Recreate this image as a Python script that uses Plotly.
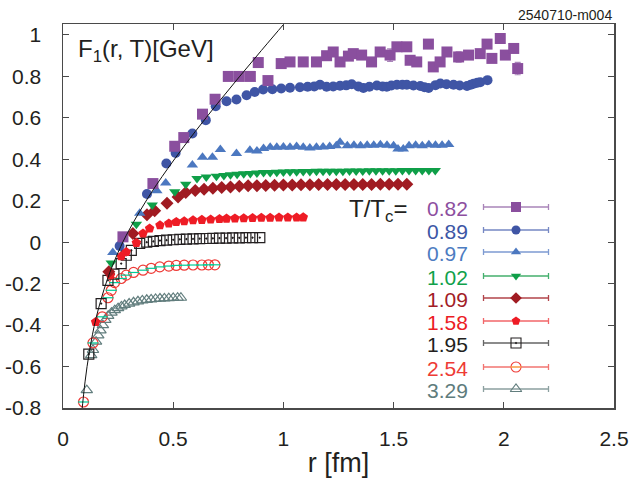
import plotly.graph_objects as go

# ---------------- data ----------------
labels = ["0.82", "0.89", "0.97", "1.02", "1.09", "1.58", "1.95", "2.54", "3.29"]

r_082 = [0.272, 0.408, 0.507, 0.548, 0.633, 0.690, 0.750, 0.800, 0.850, 0.886, 0.930, 0.990, 1.030,
         1.090, 1.150, 1.196, 1.226, 1.257, 1.295, 1.317, 1.355, 1.400, 1.439, 1.484, 1.515, 1.560,
         1.575, 1.605, 1.658, 1.680, 1.711, 1.742, 1.795, 1.840, 1.893, 1.924, 1.946, 1.984, 2.007,
         2.045, 2.063]
f_082 = [0.026, 0.283, 0.463, 0.505, 0.618, 0.690, 0.800, 0.800, 0.800, 0.867, 0.780, 0.862, 0.870,
         0.870, 0.870, 0.900, 0.918, 0.870, 0.898, 0.910, 0.903, 0.870, 0.918, 0.903, 0.943, 0.943,
         0.878, 0.870, 0.956, 0.846, 0.870, 0.918, 0.894, 0.903, 0.910, 0.956, 0.887, 0.983, 0.903,
         0.935, 0.838]
e_082 = [0.010, 0.010, 0.010, 0.010, 0.010, 0.012, 0.012, 0.012, 0.012, 0.020, 0.015, 0.015, 0.015,
         0.012, 0.015, 0.020, 0.015, 0.020, 0.015, 0.015, 0.015, 0.020, 0.020, 0.030, 0.015, 0.015,
         0.015, 0.015, 0.015, 0.015, 0.015, 0.015, 0.025, 0.015, 0.015, 0.020, 0.015, 0.020, 0.020,
         0.015, 0.030]

r_089 = [0.257, 0.381, 0.469, 0.511, 0.587, 0.648, 0.693, 0.742, 0.787, 0.833, 0.870, 0.908, 0.950,
         0.990, 1.030, 1.075, 1.110, 1.140, 1.166, 1.196, 1.226, 1.257, 1.285, 1.310, 1.340, 1.363,
         1.390, 1.424, 1.450, 1.469, 1.490, 1.515, 1.540, 1.560, 1.590, 1.621, 1.640, 1.659, 1.690,
         1.712, 1.740, 1.772, 1.800, 1.833, 1.850, 1.863, 1.880, 1.893, 1.926]
f_089 = [-0.018, 0.233, 0.380, 0.431, 0.525, 0.589, 0.656, 0.680, 0.689, 0.709, 0.725, 0.737, 0.738,
         0.742, 0.745, 0.748, 0.750, 0.752, 0.760, 0.750, 0.751, 0.755, 0.757, 0.762, 0.752, 0.744,
         0.750, 0.756, 0.752, 0.750, 0.756, 0.760, 0.760, 0.760, 0.756, 0.754, 0.748, 0.744, 0.758,
         0.766, 0.762, 0.760, 0.756, 0.754, 0.760, 0.765, 0.770, 0.772, 0.782]

r_097 = [0.226, 0.348, 0.426, 0.466, 0.587, 0.633, 0.678, 0.714, 0.787, 0.848, 0.880, 0.910, 0.940,
         0.970, 1.000, 1.030, 1.060, 1.090, 1.120, 1.150, 1.180, 1.210, 1.240, 1.257, 1.290, 1.320,
         1.350, 1.380, 1.410, 1.440, 1.470, 1.500, 1.520, 1.544, 1.570, 1.600, 1.630, 1.660, 1.690,
         1.720, 1.750]
f_097 = [-0.050, 0.140, 0.248, 0.286, 0.372, 0.410, 0.410, 0.447, 0.428, 0.444, 0.440, 0.452, 0.458,
         0.458, 0.460, 0.458, 0.462, 0.458, 0.455, 0.458, 0.460, 0.462, 0.465, 0.482, 0.466, 0.468,
         0.466, 0.468, 0.468, 0.470, 0.468, 0.466, 0.450, 0.450, 0.466, 0.468, 0.466, 0.470, 0.468,
         0.468, 0.472]

r_102 = [0.219, 0.333, 0.405, 0.507, 0.557, 0.608, 0.650, 0.696, 0.730, 0.760, 0.790, 0.820, 0.850,
         0.880, 0.910, 0.940, 0.970, 1.000, 1.030, 1.060, 1.090, 1.120, 1.150, 1.180, 1.210, 1.240,
         1.270, 1.300, 1.330, 1.360, 1.390, 1.420, 1.450, 1.480, 1.510, 1.540, 1.570, 1.600, 1.630,
         1.660, 1.689]
f_102 = [-0.100, 0.087, 0.179, 0.243, 0.280, 0.307, 0.315, 0.318, 0.322, 0.326, 0.328, 0.330, 0.332,
         0.334, 0.336, 0.337, 0.338, 0.339, 0.340, 0.340, 0.341, 0.341, 0.342, 0.342, 0.343, 0.343,
         0.343, 0.344, 0.344, 0.344, 0.345, 0.345, 0.345, 0.345, 0.345, 0.346, 0.346, 0.346, 0.346,
         0.346, 0.346]

r_109 = [0.208, 0.317, 0.381, 0.416, 0.472, 0.522, 0.557, 0.600, 0.640, 0.680, 0.720, 0.760, 0.800,
         0.840, 0.880, 0.920, 0.960, 1.000, 1.040, 1.080, 1.120, 1.160, 1.200, 1.240, 1.280, 1.320,
         1.360, 1.400, 1.440, 1.480, 1.520, 1.560]
f_109 = [-0.143, 0.042, 0.132, 0.152, 0.188, 0.218, 0.240, 0.250, 0.255, 0.260, 0.264, 0.267, 0.270,
         0.272, 0.273, 0.274, 0.275, 0.276, 0.276, 0.277, 0.277, 0.278, 0.278, 0.278, 0.279, 0.279,
         0.279, 0.279, 0.280, 0.280, 0.280, 0.280]

r_158 = [0.148, 0.215, 0.264, 0.287, 0.333, 0.363, 0.393, 0.440, 0.480, 0.514, 0.550, 0.590, 0.630,
         0.670, 0.710, 0.742, 0.780, 0.820, 0.860, 0.900, 0.940, 0.980, 1.020, 1.060, 1.090]
f_158 = [-0.385, -0.159, -0.068, -0.047, -0.003, 0.042, 0.066, 0.082, 0.090, 0.098, 0.101, 0.106, 0.108,
         0.110, 0.112, 0.114, 0.115, 0.116, 0.117, 0.118, 0.118, 0.119, 0.119, 0.119, 0.120]

r_195 = [0.117, 0.173, 0.204, 0.231, 0.264, 0.287, 0.310, 0.348, 0.380, 0.410, 0.440, 0.470, 0.500,
         0.530, 0.560, 0.590, 0.620, 0.650, 0.680, 0.710, 0.740, 0.770, 0.800, 0.830, 0.860, 0.893]
f_195 = [-0.540, -0.296, -0.184, -0.154, -0.103, -0.063, -0.039, -0.006, 0.000, 0.004, 0.008, 0.010, 0.012,
         0.014, 0.015, 0.016, 0.017, 0.018, 0.019, 0.020, 0.020, 0.021, 0.021, 0.022, 0.022, 0.022]

r_254 = [0.093, 0.136, 0.178, 0.204, 0.219, 0.234, 0.264, 0.287, 0.320, 0.363, 0.400, 0.439, 0.480,
         0.514, 0.550, 0.590, 0.630, 0.660, 0.689]
f_254 = [-0.771, -0.486, -0.360, -0.268, -0.232, -0.195, -0.175, -0.159, -0.146, -0.135, -0.126, -0.119,
         -0.115, -0.112, -0.111, -0.110, -0.110, -0.109, -0.109]

r_329 = [0.108, 0.128, 0.136, 0.150, 0.160, 0.170, 0.181, 0.192, 0.205, 0.220, 0.235, 0.250, 0.265,
         0.280, 0.300, 0.320, 0.340, 0.360, 0.380, 0.400, 0.420, 0.440, 0.460, 0.480, 0.500, 0.520, 0.535]
f_329 = [-0.714, -0.545, -0.520, -0.480, -0.450, -0.425, -0.400, -0.375, -0.355, -0.340, -0.328, -0.318,
         -0.310, -0.303, -0.296, -0.290, -0.285, -0.281, -0.278, -0.276, -0.274, -0.272, -0.271, -0.270,
         -0.269, -0.268, -0.268]

# T=0 potential curve
r_line = [0.085, 0.10, 0.12, 0.15, 0.20, 0.25, 0.30, 0.40, 0.50, 0.60, 0.70, 0.80, 0.90, 1.00, 1.05]
f_line = [-0.824, -0.674, -0.526, -0.366, -0.183, -0.049, 0.059, 0.238, 0.392, 0.534, 0.668, 0.798,
          0.925, 1.050, 1.112]

x_ticks = [0, 0.5, 1, 1.5, 2, 2.5]
x_ticklabels = ["0", "0.5", "1", "1.5", "2", "2.5"]
y_ticks = [-0.8, -0.6, -0.4, -0.2, 0, 0.2, 0.4, 0.6, 0.8, 1]
y_ticklabels = ["-0.8", "-0.6", "-0.4", "-0.2", "0", "0.2", "0.4", "0.6", "0.8", "1"]

# ---------------- styles ----------------
FONT = "Liberation Sans, Arial, Helvetica, sans-serif"
series = [
    # label, r, f, symbol, marker colour, line colour, text colour, size, legend size
    ("0.82", r_082, f_082, "square", "#8A4F9E", "#A985B9", "#8D4F9F", 11, 10),
    ("0.89", r_089, f_089, "circle", "#3F55A5", "#7688C4", "#3C56A5", 10, 9),
    ("0.97", r_097, f_097, "triangle-up", "#4C78C0", "#7E9BD2", "#4D7CC1", 10, 9),
    ("1.02", r_102, f_102, "triangle-down", "#0F9F48", "#45B06E", "#10A14B", 10, 9),
    ("1.09", r_109, f_109, "diamond", "#A01B22", "#B2454B", "#A21D27", 10, 9),
    ("1.58", r_158, f_158, "pentagon", "#EE1C25", "#F2676A", "#EC1C24", 10, 9),
    ("1.95", r_195, f_195, "square-open-dot", "#231F20", "#666666", "#231F20", 10, 10),
    ("2.54", r_254, f_254, "circle-open", "#EE3A36", "#F27572", "#EE3B35", 10, 10),
    ("3.29", r_329, f_329, "triangle-up-open", "#627E7E", "#8CA0A0", "#5E7C7C", 10, 10),
]

fig = go.Figure()

# data series, highest T first so low-T markers sit on top
for lab, rr, ff, sym, mc, lc, tc, sz, lsz in reversed(series):
    kw = {}
    if lab == "0.82":
        kw["error_y"] = dict(type="data", array=e_082, color=lc, thickness=1.2, width=3)
    fig.add_trace(go.Scatter(
        x=rr, y=ff, mode="markers", showlegend=False, cliponaxis=True,
        marker=dict(symbol=sym, size=sz, color=mc,
                    line=dict(color=mc, width=1.2 if "open" in sym else 0)),
        **kw))
    if lab == "2.54":
        fig.add_trace(go.Scatter(
            x=rr, y=ff, mode="markers", showlegend=False,
            marker=dict(symbol="line-ew-open", size=8, line=dict(color=mc, width=1.2))))

# theory line
fig.add_trace(go.Scatter(x=r_line, y=f_line, mode="lines", line=dict(color="#111111", width=1),
                         line_shape="spline", showlegend=False))

# ---------------- custom legend (pixel-space overlay axes) ----------------
leg_rows = [207, 230, 252, 276, 298, 321, 343, 367, 389]
leg_mark_x = 516
leg_half = 32.5
annotations = []
for (lab, rr, ff, sym, mc, lc, tc, sz, lsz), yy in zip(series, leg_rows):
    fig.add_trace(go.Scatter(
        x=[leg_mark_x], y=[yy], xaxis="x2", yaxis="y2", mode="markers", showlegend=False,
        error_x=dict(type="constant", value=leg_half, color=lc, thickness=1.3, width=3),
        marker=dict(symbol=sym, size=lsz, color=mc,
                    line=dict(color=mc, width=1.1 if "open" in sym else 0))))
    if lab == "2.54":
        fig.add_trace(go.Scatter(
            x=[leg_mark_x], y=[yy], xaxis="x2", yaxis="y2", mode="markers", showlegend=False,
            marker=dict(symbol="line-ew-open", size=8, line=dict(color=mc, width=1.1))))
    annotations.append(dict(x=470, y=yy + 1, xref="x2", yref="y2", text=lab, showarrow=False,
                            xanchor="right", yanchor="middle",
                            font=dict(family=FONT, size=21, color=tc)))

annotations.append(dict(x=409, y=210, xref="x2", yref="y2", text="T/T<sub>c</sub>=",
                        showarrow=False, xanchor="right", yanchor="middle",
                        font=dict(family=FONT, size=24, color="#231F20")))
annotations.append(dict(x=76, y=50, xref="x2", yref="y2", text="F<sub>1</sub>(r, T)[GeV]",
                        showarrow=False, xanchor="left", yanchor="middle",
                        font=dict(family=FONT, size=24, color="#231F20")))
annotations.append(dict(x=1.0, y=1.024, xref="paper", yref="paper", text="2540710-m004",
                        showarrow=False, xanchor="right", yanchor="middle",
                        font=dict(family=FONT, size=14, color="#231F20")))

axis_common = dict(showgrid=False, zeroline=False, showline=True, linecolor="#4a4a4a", linewidth=1.5,
                   ticks="inside", ticklen=6, tickwidth=1, tickcolor="#4a4a4a", mirror="ticks",
                   automargin=False,
                   tickfont=dict(family=FONT, size=21, color="#231F20"))

fig.update_layout(
    width=634, height=478,
    margin=dict(l=63, r=20, t=24, b=70),
    paper_bgcolor="white", plot_bgcolor="white",
    xaxis=dict(range=[0, 2.5], tickvals=x_ticks, ticktext=x_ticklabels, ticklabelstandoff=11,
               title=dict(text="r [fm]", font=dict(family=FONT, size=27, color="#231F20"), standoff=4),
               **axis_common),
    yaxis=dict(range=[-0.8, 1.053], tickvals=y_ticks, ticktext=y_ticklabels, ticklabelstandoff=16,
               **axis_common),
    xaxis2=dict(overlaying="x", range=[63, 614], visible=False, fixedrange=True),
    yaxis2=dict(overlaying="y", range=[408, 24], visible=False, fixedrange=True),
    annotations=annotations,
    showlegend=False,
    hovermode=False,
)

fig.write_html("out.html", config={"displayModeBar": False, "staticPlot": True},
               post_script="document.body.style.margin='0px';")
